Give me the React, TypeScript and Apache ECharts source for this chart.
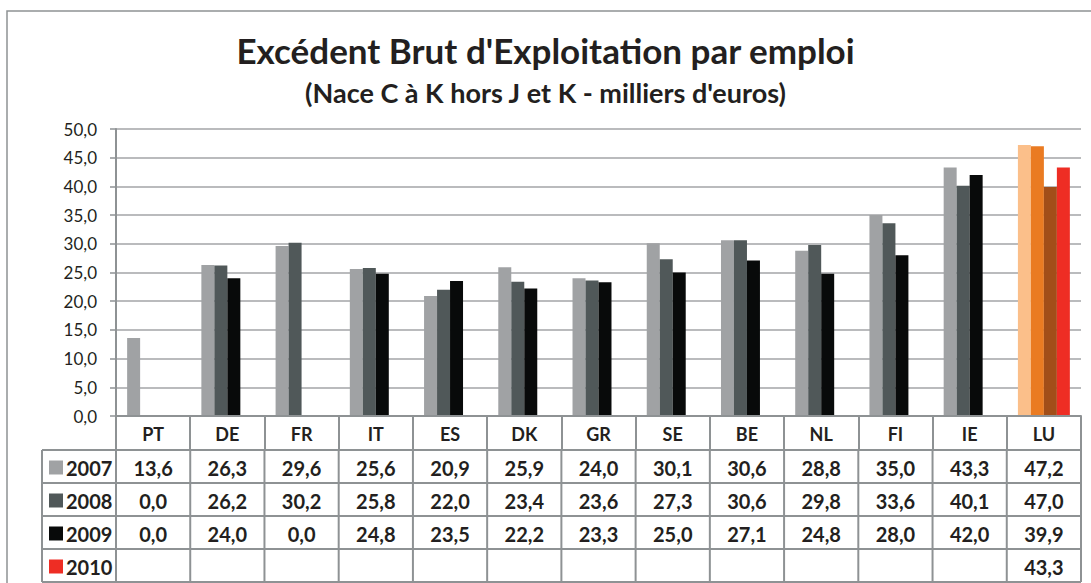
import React, { useEffect, useRef } from "react";
import * as echarts from "echarts";

const categories = ["PT", "DE", "FR", "IT", "ES", "DK", "GR", "SE", "BE", "NL", "FI", "IE", "LU"];
const seriesNames = ["2007", "2008", "2009", "2010"];
const values2007 = [13.6, 26.3, 29.6, 25.6, 20.9, 25.9, 24.0, 30.1, 30.6, 28.8, 35.0, 43.3, 47.2];
const values2008 = [0.0, 26.2, 30.2, 25.8, 22.0, 23.4, 23.6, 27.3, 30.6, 29.8, 33.6, 40.1, 47.0];
const values2009 = [0.0, 24.0, 0.0, 24.8, 23.5, 22.2, 23.3, 25.0, 27.1, 24.8, 28.0, 42.0, 39.9];
const values2010: (number | null)[] = [null, null, null, null, null, null, null, null, null, null, null, null, 43.3];
const yTicks = [0, 5, 10, 15, 20, 25, 30, 35, 40, 45, 50];

const baseColors = ["#A0A2A4", "#505859", "#080A0A", "#EE2D24"];
const luColors = ["#FBBF8A", "#EA7B22", "#A24E19", "#EE2D24"];

const FONT = "Lato, 'Open Sans', sans-serif";
const TEXT = "#231F20";
const LINE = "#8E9294";

const W = 1091;
const H = 583;
const GL = 116;
const GR = 1081;
const GT = 129;
const GB = 416;
const ROW_H = 33;
const TABLE_LEFT = 42;

const fmt = (v: number | null) => (v === null ? "" : v.toFixed(1).replace(".", ","));

export default function App() {
  const ref = useRef<HTMLDivElement>(null);
  useEffect(() => {
    if (!ref.current) return;
    const chart = echarts.init(ref.current, undefined, { renderer: "svg" });
    const allValues = [values2007, values2008, values2009, values2010];
    const luIdx = categories.indexOf("LU");
    const cellW = (GR - GL) / categories.length;
    const headerBottom = GB + 34;

    const graphics: any[] = [];
    graphics.push({
      type: "rect",
      shape: { x: 7, y: 11, width: W + 20, height: H + 20 },
      style: { fill: "none", stroke: LINE, lineWidth: 1.5 },
      silent: true,
      z: 0,
    });
    for (let r = 0; r <= seriesNames.length; r++) {
      const y = headerBottom + r * ROW_H;
      graphics.push({
        type: "line",
        shape: { x1: TABLE_LEFT, y1: y, x2: GR, y2: y },
        style: { stroke: LINE, lineWidth: 2 },
        silent: true,
      });
    }
    const tableBottom = headerBottom + seriesNames.length * ROW_H;
    graphics.push({
      type: "line",
      shape: { x1: TABLE_LEFT, y1: headerBottom, x2: TABLE_LEFT, y2: tableBottom },
      style: { stroke: LINE, lineWidth: 2 },
      silent: true,
    });
    for (let c = 0; c <= categories.length; c++) {
      const x = GL + c * cellW;
      graphics.push({
        type: "line",
        shape: { x1: x, y1: headerBottom, x2: x, y2: tableBottom },
        style: { stroke: LINE, lineWidth: 2 },
        silent: true,
      });
    }
    seriesNames.forEach((name, r) => {
      const cy = headerBottom + r * ROW_H + ROW_H / 2 + 1;
      graphics.push({
        type: "rect",
        shape: { x: 49, y: cy - 7, width: 14, height: 14 },
        style: { fill: baseColors[r] },
        silent: true,
      });
      graphics.push({
        type: "text",
        x: 66,
        y: cy,
        style: {
          text: name,
          font: `bold 20px ${FONT}`,
          fill: TEXT,
          textAlign: "left",
          textVerticalAlign: "middle",
        },
        silent: true,
      });
      allValues[r].forEach((v, c) => {
        graphics.push({
          type: "text",
          x: GL + c * cellW + cellW / 2,
          y: cy,
          style: {
            text: fmt(v),
            font: `bold 20px ${FONT}`,
            fill: TEXT,
            textAlign: "center",
            textVerticalAlign: "middle",
          },
          silent: true,
        });
      });
    });

    const series = allValues.map((vals, s) => ({
      name: seriesNames[s],
      type: "bar",
      barGap: "0%",
      barCategoryGap: "30%",
      data: vals.map((v, i) =>
        i === luIdx ? { value: v, itemStyle: { color: luColors[s] } } : v
      ),
      itemStyle: { color: baseColors[s] },
      z: 3,
    }));

    chart.setOption({
      animation: false,
      backgroundColor: "#ffffff",
      title: [
        {
          text: "Excédent Brut d'Exploitation par emploi",
          left: "center",
          top: 27,
          textStyle: { fontFamily: FONT, fontWeight: "bold", fontSize: 35, color: TEXT },
        },
        {
          text: "(Nace C à K hors J et K - milliers d'euros)",
          left: "center",
          top: 74,
          textStyle: { fontFamily: FONT, fontWeight: "bold", fontSize: 27, color: TEXT },
        },
      ],
      grid: { left: GL, right: W - GR, top: GT, bottom: H - GB, containLabel: false },
      xAxis: {
        type: "category",
        data: categories,
        axisLine: { show: true, lineStyle: { color: LINE, width: 2 } },
        axisTick: { show: true, interval: 0, length: 34, lineStyle: { color: LINE, width: 2 } },
        axisLabel: {
          interval: 0,
          margin: 9,
          fontFamily: FONT,
          fontWeight: "bold",
          fontSize: 18,
          color: TEXT,
        },
        z: 5,
      },
      yAxis: {
        type: "value",
        min: yTicks[0],
        max: yTicks[yTicks.length - 1],
        interval: yTicks[1] - yTicks[0],
        axisLine: { show: true, lineStyle: { color: LINE, width: 2 } },
        axisTick: { show: true, length: 6, lineStyle: { color: LINE, width: 1.5 } },
        axisLabel: {
          margin: 19,
          fontFamily: FONT,
          fontSize: 17,
          color: TEXT,
          formatter: (v: number) => fmt(v),
        },
        splitLine: { show: true, lineStyle: { color: "#A3A5A7", width: 1.5 } },
      },
      graphic: graphics,
      series,
    });
    return () => chart.dispose();
  }, []);
  return <div ref={ref} style={{ width: W, height: H, position: "absolute", left: 0, top: 0 }} />;
}
